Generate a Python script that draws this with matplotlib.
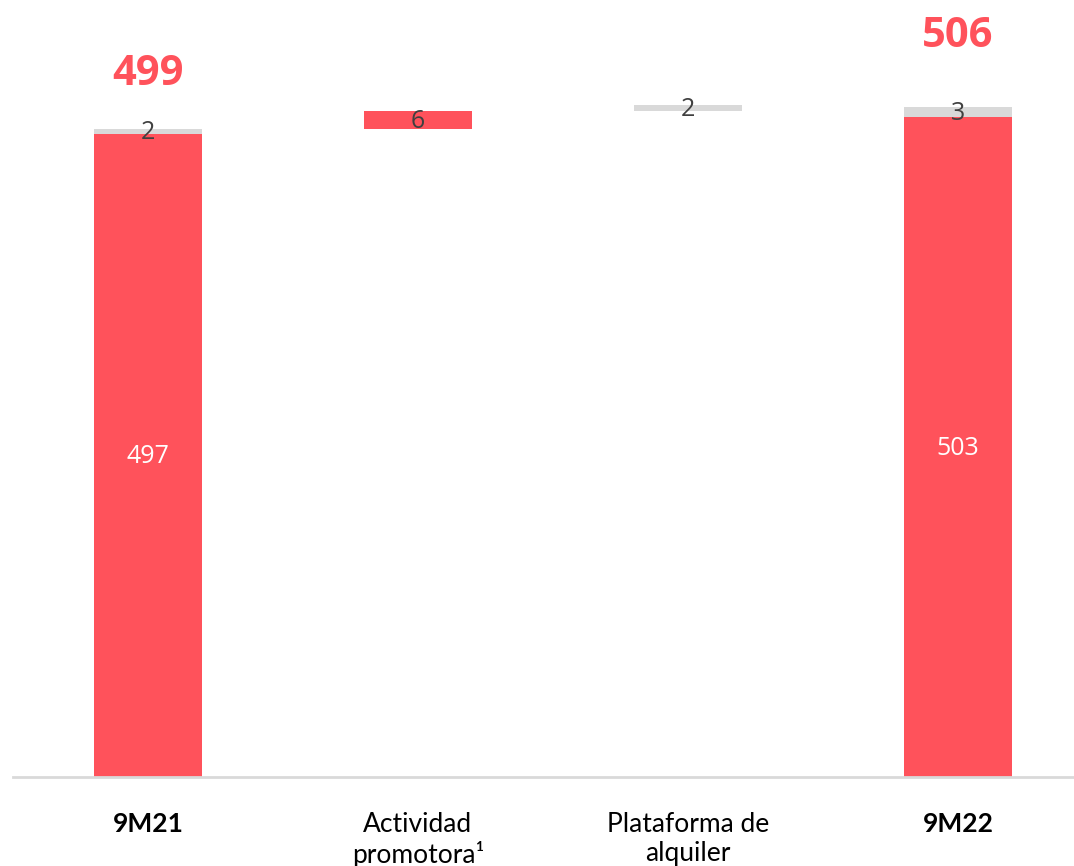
import matplotlib
matplotlib.use('Agg')
import matplotlib.pyplot as plt

# Data
categories = ['9M21', 'Actividad\npromotora¹', 'Plataforma de\nalquiler', '9M22']
is_total = [True, False, False, True]
red_vals = [497.2, 5.9, 0.0, 502.8]    # red segment
gray_vals = [1.6, 0.0, 2.0, 3.4]       # gray segment
red_labels = ['497', '6', '', '503']
gray_labels = ['2', '', '2', '3']
total_labels = ['499', '', '', '506']

# Colours / layout
RED = '#FF525B'
GRAY = '#D9D9D9'
DARK = '#404040'
W, H = 1074, 866
ymin = 283.0
px_per_unit = 3.0
base_px = 776.5  # baseline from top
total_offset_px = [44, 0, 0, 60]

fig = plt.figure(figsize=(W / 100, H / 100), dpi=100)
ax = fig.add_axes([13 / W, (H - base_px) / H, 1 - 13 / W, base_px / H])
ax.set_ylim(ymin, ymin + base_px / px_per_unit)
ax.set_xlim(-0.5, 3.43)

# waterfall bottoms
bottoms = []
running = 0.0
for i in range(len(categories)):
    if is_total[i]:
        bottoms.append(ymin)
        running = red_vals[i] + gray_vals[i]
    else:
        bottoms.append(running)
        running += red_vals[i] + gray_vals[i]

x = list(range(len(categories)))
width = 0.4
lab_shift = -1.5 / px_per_unit  # labels sit a touch below segment centre
for i in x:
    b = bottoms[i]
    h_red = red_vals[i] - (ymin if is_total[i] else 0)
    if red_vals[i] > 0:
        ax.bar(i, h_red, bottom=b, width=width, color=RED, linewidth=0)
        ax.text(i, b + h_red / 2 + lab_shift, red_labels[i], ha='center', va='center',
                fontsize=18, family='Open Sans',
                color='white' if is_total[i] else DARK)
        b = b + h_red
    if gray_vals[i] > 0:
        ax.bar(i, gray_vals[i], bottom=b, width=width, color=GRAY, linewidth=0)
        ax.text(i, b + gray_vals[i] / 2 + lab_shift, gray_labels[i], ha='center', va='center',
                fontsize=18, family='Open Sans', color=DARK)
        b = b + gray_vals[i]
    if total_labels[i]:
        ax.annotate(total_labels[i], (i, b), xytext=(0, total_offset_px[i] * 0.72),
                    textcoords='offset points', ha='center', va='baseline',
                    fontsize=30, fontweight='bold', family='Open Sans', color=RED)

for i, lab in enumerate(categories):
    ax.text(i, ymin - 35 / px_per_unit, lab, ha='center', va='top',
            fontsize=19, family='Lato', color='black',
            fontweight='bold' if is_total[i] else 'normal', linespacing=1.2)

for s in ['top', 'right', 'left']:
    ax.spines[s].set_visible(False)
ax.spines['bottom'].set_color(GRAY)
ax.spines['bottom'].set_linewidth(2)
ax.set_xticks([])
ax.set_yticks([])
ax.patch.set_alpha(0)

fig.savefig('out.png', dpi=100)
